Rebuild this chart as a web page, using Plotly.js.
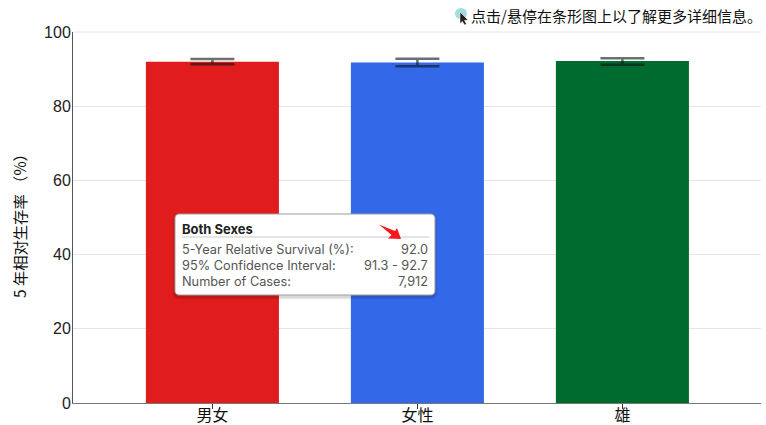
<!DOCTYPE html>
<html><head><meta charset="utf-8">
<script src="https://cdn.plot.ly/plotly-3.0.1.min.js"></script>
<style>html,body{margin:0;padding:0;background:#fff}#c{width:766px;height:425px}</style>
</head><body><div id="c"></div>
<script>
const categories = ["男女", "女性", "雄"];
const survival = [92.0, 91.8, 92.2];
const ciUpper = [92.7, 92.8, 92.9];
const ciLower = [91.3, 90.8, 91.2];
const barColors = ["#e01c1c", "#3369e8", "#006b2e"];
const tickValues = [0, 20, 40, 60, 80, 100];
const noteText = "点击/悬停在条形图上以了解更多详细信息。";
const yTitle = "5 年相对生存率 （%）";
const tipTitle = "Both Sexes";
const tipLabels = ["5-Year Relative Survival (%):", "95% Confidence Interval:", "Number of Cases:"];
const tipValues = ["92.0", "91.3 - 92.7", "7,912"];

const W = 766, H = 425, L = 73, R = 761, T = 32, B = 403;
const px = x => (x - L) / (R - L), py = y => (B - y) / (B - T);
const pathOf = pts => pts.map((p, i) => (i ? "L" : "M") + px(p[0]).toFixed(5) + "," + py(p[1]).toFixed(5)).join(" ") + " Z";
function rounded(x0, y0, x1, y1, r) {
  const c = [], n = 5;
  const arc = (cx, cy, a0) => { for (let i = 0; i <= n; i++) { const a = a0 + i / n * Math.PI / 2; c.push([cx + r * Math.cos(a), cy + r * Math.sin(a)]); } };
  arc(x1 - r, y0 + r, -Math.PI / 2); arc(x1 - r, y1 - r, 0); arc(x0 + r, y1 - r, Math.PI / 2); arc(x0 + r, y0 + r, Math.PI);
  return pathOf(c);
}
const pshape = (path, fill, line, w) => ({type: "path", xref: "paper", yref: "paper", layer: "above", path, fillcolor: fill, line: {color: line || "rgba(0,0,0,0)", width: w || 0}});

const shapes = [];
shapes.push({type: "line", xref: "paper", yref: "paper", layer: "below", x0: 0, x1: 1, y0: 1, y1: 1, line: {color: "#e6e6e6", width: 1}});
[[3, .03], [2, .05], [1, .08]].forEach(([s, a]) => shapes.push(pshape(rounded(175 - s, 214 - s + 2, 435 + s, 295 + s + 2, 4 + s), `rgba(0,0,0,${a})`)));
shapes.push(pshape(rounded(175, 214, 435, 295, 4), "#ffffff", "#a0a0a0", 1));
shapes.push({type: "line", xref: "paper", yref: "paper", layer: "above", x0: px(182), x1: px(429), y0: py(237), y1: py(237), line: {color: "#c8c8c8", width: 1}});
shapes.push(pshape(pathOf([[379, 224.5], [395, 231], [397, 228], [401, 239], [388, 238.5], [391.5, 235]]), "#f5191b"));
// cursor glyph beside the note
shapes.push({type: "circle", xref: "paper", yref: "paper", layer: "above", x0: px(455), x1: px(467), y0: py(8), y1: py(19), fillcolor: "#a3dcdc", line: {width: 0}});
shapes.push(pshape(pathOf([[460, 12], [460, 23.5], [462.5, 21.5], [464.5, 25], [466.5, 24], [464.5, 20.5], [468, 20]]), "#222222", "#ffffff", 0.5));

const ann = (text, x, y, xanchor, font) => ({text, xref: "paper", yref: "paper", x: px(x), y: py(y), xanchor, yanchor: "middle", showarrow: false, font, align: xanchor});
const tipFont = {family: "Inter, 'Liberation Sans', sans-serif", size: 12.75, color: "#555555"};
const annotations = [
  ann(noteText, 468.5, 15.5, "left", {family: "'Noto Sans CJK SC'", size: 15, color: "#111"}),
  ann("<b>" + tipTitle + "</b>", 180, 229, "left", {family: tipFont.family, size: 13, color: "#222"})
];
const rowsY = [249, 265, 281.5];
tipLabels.forEach((t, i) => annotations.push(ann(t, 180, rowsY[i], "left", tipFont)));
tipValues.forEach((t, i) => annotations.push(ann(t, 430, rowsY[i], "right", tipFont)));
annotations.push({text: yTitle, xref: "paper", yref: "paper", x: px(19), y: py(222), xanchor: "center", yanchor: "middle", textangle: -90, showarrow: false, font: {family: "'Noto Sans CJK SC'", size: 15.3, color: "#111"}});

const trace = {
  type: "bar", x: categories, y: survival, width: 0.649,
  marker: {color: barColors, line: {width: 0}},
  error_y: {type: "data", symmetric: false,
    array: ciUpper.map((v, i) => v - survival[i]),
    arrayminus: survival.map((v, i) => v - ciLower[i]),
    color: "rgba(15,25,25,0.62)", thickness: 2.5, width: 22},
  hoverinfo: "none"
};
const layout = {
  width: W, height: H, autosize: false, showlegend: false,
  margin: {l: L, r: W - R, t: T, b: H - B, pad: 0},
  paper_bgcolor: "#fff", plot_bgcolor: "#fff",
  font: {family: "'Liberation Sans', Arial, sans-serif", size: 16, color: "#222"},
  bargap: 0.35,
  xaxis: {type: "category", categoryorder: "array", categoryarray: categories, range: [-0.68, 2.676],
    ticks: "outside", ticklen: 5, tickcolor: "#333", showgrid: false, ticklabelstandoff: -7,
    showline: true, linecolor: "#777", linewidth: 1, zeroline: false,
    tickfont: {family: "'Noto Sans CJK SC'", size: 16, color: "#111"}},
  yaxis: {range: [0, 100], tickvals: tickValues, ticktext: tickValues.map(String),
    ticks: "", showgrid: true, gridcolor: "#e6e6e6", gridwidth: 1, ticklabelstandoff: -2,
    showline: true, linecolor: "#555", linewidth: 1, zeroline: false,
    tickfont: {size: 16, color: "#222"}},
  shapes, annotations
};
Plotly.newPlot("c", [trace], layout, {displayModeBar: false, staticPlot: true});
</script></body></html>
